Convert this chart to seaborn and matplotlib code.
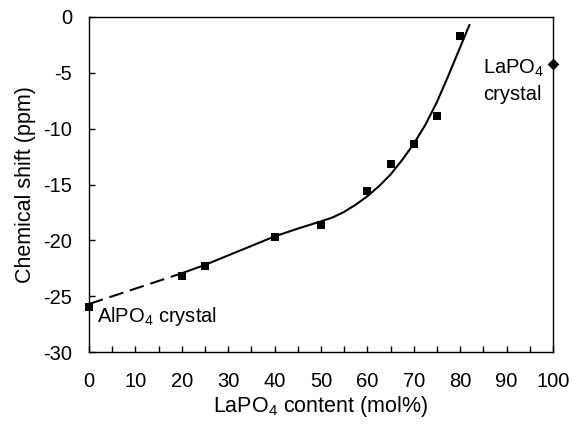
import matplotlib
matplotlib.use("Agg")
import matplotlib.pyplot as plt
from matplotlib.ticker import MultipleLocator
import seaborn as sns
import pandas as pd

# ---- data ----
content = [0, 20, 25, 40, 50, 60, 65, 70, 75, 80]
shift = [-26.0, -23.2, -22.3, -19.7, -18.6, -15.6, -13.2, -11.4, -8.86, -1.7]

crystal_x = [100]
crystal_y = [-4.2]

dashed_x = [0, 20]
dashed_y = [-25.7, -22.95]

trend_x = [20, 25, 30, 35, 40, 45, 50, 52.5, 55, 57.5, 60, 62.5, 65, 67.5,
           70, 72.5, 75, 77.5, 80, 82]
trend_y = [-22.95, -22.2, -21.35, -20.5, -19.65, -18.95, -18.3, -17.95,
           -17.45, -16.8, -16.05, -15.15, -14.1, -12.8, -11.35, -9.65,
           -7.6, -5.2, -2.7, -0.7]

xticks = [0, 10, 20, 30, 40, 50, 60, 70, 80, 90, 100]
yticks = [0, -5, -10, -15, -20, -25, -30]

sns.set_style("ticks")
plt.rcParams['font.family'] = ['Liberation Sans', 'DejaVu Sans']
plt.rcParams['mathtext.fontset'] = 'custom'
plt.rcParams['mathtext.rm'] = 'Liberation Sans'
plt.rcParams['mathtext.it'] = 'Liberation Sans:italic'
plt.rcParams['mathtext.default'] = 'regular'
plt.rcParams['lines.scale_dashes'] = False
plt.rcParams['text.color'] = 'black'
plt.rcParams['axes.labelcolor'] = 'black'
plt.rcParams['xtick.color'] = 'black'
plt.rcParams['ytick.color'] = 'black'

fig = plt.figure(figsize=(5.74, 4.25), dpi=100)
ax = fig.add_axes([89/574, 1-352/425, (553-89)/574, (352-17)/425])

df_pts = pd.DataFrame({"x": content, "y": shift})
df_cr = pd.DataFrame({"x": crystal_x, "y": crystal_y})
df_dash = pd.DataFrame({"x": dashed_x, "y": dashed_y})
df_trend = pd.DataFrame({"x": trend_x, "y": trend_y})

sns.lineplot(data=df_dash, x="x", y="y", ax=ax, color="black", lw=1.5,
             sort=False, estimator=None, dashes=False)
ax.lines[-1].set_dashes((10.5, 5))
sns.lineplot(data=df_trend, x="x", y="y", ax=ax, color="black", lw=1.5,
             sort=False, estimator=None)

sns.scatterplot(data=df_pts, x="x", y="y", ax=ax, marker="s", s=36,
                color="black", linewidth=0, zorder=5, clip_on=False)
sns.scatterplot(data=df_cr, x="x", y="y", ax=ax, marker="D", s=36,
                color="black", linewidth=0, zorder=5, clip_on=False)

ax.set_xlim(0, 100)
ax.set_ylim(-30, 0)
ax.set_xticks(xticks)
ax.set_yticks(yticks)
ax.set_xticklabels([str(t) for t in xticks])
ax.set_yticklabels([str(t) for t in yticks])
ax.xaxis.set_minor_locator(MultipleLocator(5))

for sp in ax.spines.values():
    sp.set_linewidth(1.0)
    sp.set_color("black")

ax.tick_params(axis="x", which="both", direction="in", length=4, width=1,
               pad=14.5, labelsize=14.5, colors="black")
ax.tick_params(axis="y", which="both", direction="in", length=4.5, width=1,
               pad=12, labelsize=14.5, colors="black")

ax.set_xlabel("LaPO$_4$ content (mol%)", fontsize=15.5, labelpad=2,
              color="black")
ax.set_ylabel("Chemical shift (ppm)", fontsize=15.5, labelpad=5,
              color="black")

ax.text(1.7, -27.35, "AlPO$_4$ crystal", fontsize=14.5, ha="left",
        va="baseline", color="black")
ax.text(84.85, -5.1, "LaPO$_4$", fontsize=14.5, ha="left", va="baseline",
        color="black")
ax.text(84.85, -7.45, "crystal", fontsize=14.5, ha="left", va="baseline",
        color="black")

fig.savefig("out.png", dpi=100)
